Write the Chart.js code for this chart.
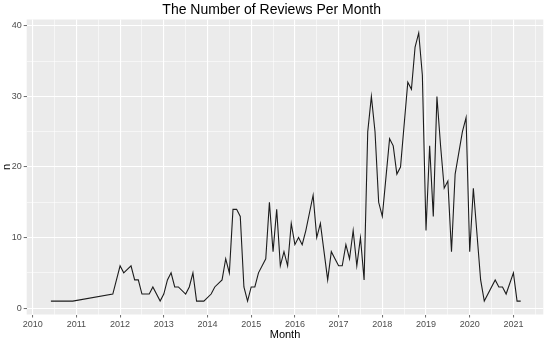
<!DOCTYPE html>
<html>
<head>
<meta charset="utf-8">
<script src="https://cdn.jsdelivr.net/npm/chart.js@4.4.1/dist/chart.umd.min.js"></script>
<style>
  html, body { margin: 0; padding: 0; background: #fff; }
  #wrap { width: 550px; height: 343px; position: relative; }
</style>
</head>
<body>
<div id="wrap"><canvas id="chart"></canvas></div>
<script>
// month of review (YYYY-MM) and number of reviews in that month
const months = [
  '2010-06', '2010-12', '2011-11',
  '2012-01', '2012-02', '2012-04', '2012-05', '2012-06', '2012-07', '2012-09', '2012-10', '2012-12',
  '2013-01', '2013-02', '2013-03', '2013-04', '2013-05', '2013-07', '2013-08', '2013-09', '2013-10', '2013-12',
  '2014-02', '2014-03', '2014-05', '2014-06', '2014-07', '2014-08', '2014-09', '2014-10', '2014-11', '2014-12',
  '2015-01', '2015-02', '2015-03', '2015-05', '2015-06', '2015-07', '2015-08', '2015-09', '2015-10', '2015-11', '2015-12',
  '2016-01', '2016-02', '2016-03', '2016-04', '2016-06', '2016-07', '2016-08', '2016-09', '2016-10', '2016-11', '2016-12',
  '2017-01', '2017-02', '2017-03', '2017-04', '2017-05', '2017-06', '2017-07', '2017-08', '2017-09', '2017-10', '2017-11', '2017-12',
  '2018-01', '2018-03', '2018-04', '2018-05', '2018-06', '2018-08', '2018-09', '2018-10', '2018-11', '2018-12',
  '2019-01', '2019-02', '2019-03', '2019-04', '2019-05', '2019-06', '2019-07', '2019-08', '2019-09', '2019-10', '2019-11', '2019-12',
  '2020-01', '2020-02', '2020-04', '2020-05', '2020-08', '2020-09', '2020-10', '2020-11',
  '2021-01', '2021-02', '2021-03'
];
const reviews = [
  1, 1, 2,
  6, 5, 6, 4, 4, 2, 2, 3, 1,
  2, 4, 5, 3, 3, 2, 3, 5, 1, 1,
  2, 3, 4, 7, 5, 14, 14, 13, 3, 1,
  3, 3, 5, 7, 15, 8, 14, 6, 8, 6, 12,
  9, 10, 9, 11, 16, 10, 12, 8, 4, 8, 7,
  6, 6, 9, 7, 11, 6, 10, 4, 25, 30, 25, 15,
  13, 24, 23, 19, 20, 32, 31, 37, 39, 33,
  11, 23, 13, 30, 23, 17, 18, 8, 19, 22, 25, 27,
  8, 17, 4, 1, 4, 3, 3, 2,
  5, 1, 1
];
const yearTicks = [2010, 2011, 2012, 2013, 2014, 2015, 2016, 2017, 2018, 2019, 2020, 2021];
const countTicks = [0, 10, 20, 30, 40];

function toYear(m) {
  const [y, mo] = m.split('-').map(Number);
  return y + (mo - 1) / 12;
}
const points = months.map((m, i) => ({ x: toYear(m), y: reviews[i] }));

const FONT = '"Liberation Sans", Arial, sans-serif';

const panelBg = {
  id: 'panelBg',
  beforeDraw(chart) {
    const { ctx, chartArea: a } = chart;
    ctx.save();
    ctx.fillStyle = '#ebebeb';
    ctx.fillRect(a.left, a.top, a.right - a.left, a.bottom - a.top);
    ctx.restore();
  }
};

new Chart('chart', {
  type: 'line',
  data: {
    datasets: [{
      data: points,
      borderColor: '#1c1c1c',
      borderWidth: 1.1,
      pointRadius: 0,
      tension: 0,
      fill: false
    }]
  },
  options: {
    responsive: true,
    maintainAspectRatio: false,
    animation: false,
    layout: { padding: { left: 0, right: 6.7, top: 0, bottom: 0 } },
    plugins: {
      legend: { display: false },
      tooltip: { enabled: false },
      title: {
        display: true,
        text: 'The Number of Reviews Per Month',
        color: '#000',
        font: { family: FONT, size: 14, weight: 'normal', lineHeight: 1.1 },
        padding: { top: 2.5, bottom: 1.6 }
      }
    },
    scales: {
      x: {
        type: 'linear',
        min: 2009.863,
        max: 2021.684,
        afterFit(s) { s.height = 28.5; },
        border: { display: false },
        grid: {
          color: '#ffffff',
          lineWidth: c => yearTicks.includes(c.tick.value) ? 1.1 : 0.55,
          tickColor: c => yearTicks.includes(c.tick.value) ? '#444' : 'rgba(0,0,0,0)',
          tickLength: 3,
          tickWidth: 0.8
        },
        ticks: {
          stepSize: 0.5,
          includeBounds: false,
          autoSkip: false,
          maxRotation: 0,
          padding: 2,
          color: '#4d4d4d',
          font: { family: FONT, size: 9 },
          callback: v => yearTicks.includes(v) ? String(v) : ''
        },
        title: {
          display: true,
          text: 'Month',
          color: '#000',
          font: { family: FONT, size: 11 },
          padding: { top: 0, bottom: 1.5 }
        }
      },
      y: {
        min: -0.9,
        max: 40.9,
        afterFit(s) { s.width = 26.7; },
        border: { display: false },
        grid: {
          color: '#ffffff',
          lineWidth: c => countTicks.includes(c.tick.value) ? 1.1 : 0.55,
          tickColor: c => countTicks.includes(c.tick.value) ? '#444' : 'rgba(0,0,0,0)',
          tickLength: 3,
          tickWidth: 0.8
        },
        ticks: {
          stepSize: 5,
          includeBounds: false,
          autoSkip: false,
          padding: 2,
          color: '#4d4d4d',
          font: { family: FONT, size: 9 },
          callback: v => countTicks.includes(v) ? String(v) : ''
        },
        title: {
          display: true,
          text: 'n',
          color: '#000',
          font: { family: FONT, size: 11 },
          padding: { top: 0, bottom: 0 }
        }
      }
    }
  },
  plugins: [panelBg]
});
</script>
</body>
</html>
